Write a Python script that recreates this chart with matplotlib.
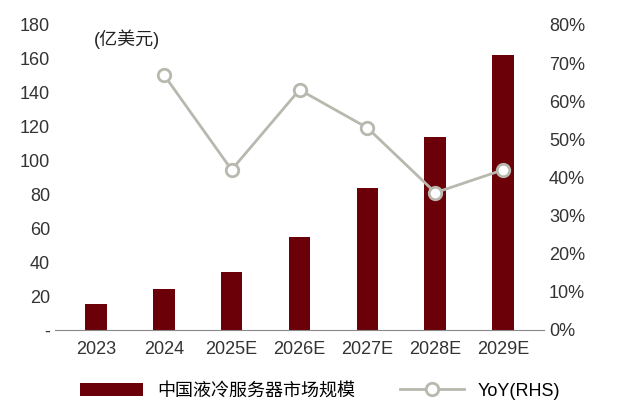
import matplotlib
matplotlib.use("Agg")
import matplotlib.pyplot as plt
from matplotlib.ticker import FuncFormatter

plt.rcParams['font.family'] = ['Liberation Sans', 'Noto Sans CJK SC']

years = ["2023", "2024", "2025E", "2026E", "2027E", "2028E", "2029E"]
market = [15, 24, 34, 55, 84, 114, 162]
yoy_years = years[1:]
yoy = [67, 42, 63, 53, 36, 42]

fig = plt.figure(figsize=(6.4, 4.16), dpi=100)
ax = fig.add_axes([0.086, 0.207, 0.764, 0.733])
ax2 = ax.twinx()

x = list(range(len(years)))
b = ax.bar(x, market, width=0.32, color="#6B0008", label="中国液冷服务器市场规模", zorder=2)
l, = ax2.plot(x[1:], yoy, color="#B8B8AE", lw=2, marker="o", ms=9,
              mfc="white", mec="#B8B8AE", mew=2, label="YoY(RHS)", zorder=3)

ax.set_ylim(0, 180)
ax.set_yticks(range(0, 181, 20))
ax.yaxis.set_major_formatter(FuncFormatter(lambda v, p: "-" if v == 0 else f"{int(v)}"))
ax2.set_ylim(0, 80)
ax2.set_yticks(range(0, 81, 10))
ax2.yaxis.set_major_formatter(FuncFormatter(lambda v, p: f"{int(v)}%"))
ax.set_xlim(-0.6, 6.6)
ax.set_xticks(x)
ax.set_xticklabels(years)

for a in (ax, ax2):
    for s in ("top", "left", "right"):
        a.spines[s].set_visible(False)
    a.tick_params(length=0, labelsize=13, colors="#333333")
ax2.spines["bottom"].set_visible(False)
ax.spines["bottom"].set_color("#888888")
ax.tick_params(axis="x", pad=8)

ax.text(0.08, 0.985, "(亿美元)", transform=ax.transAxes, fontsize=13,
        va="top", ha="left", color="#222222")

fig.legend([b, l], ["中国液冷服务器市场规模", "YoY(RHS)"], loc="lower center",
           bbox_to_anchor=(0.5, 0.0), ncol=2, frameon=False, fontsize=13,
           handlelength=3.5, columnspacing=2.5)

fig.savefig("out.png", dpi=100)
